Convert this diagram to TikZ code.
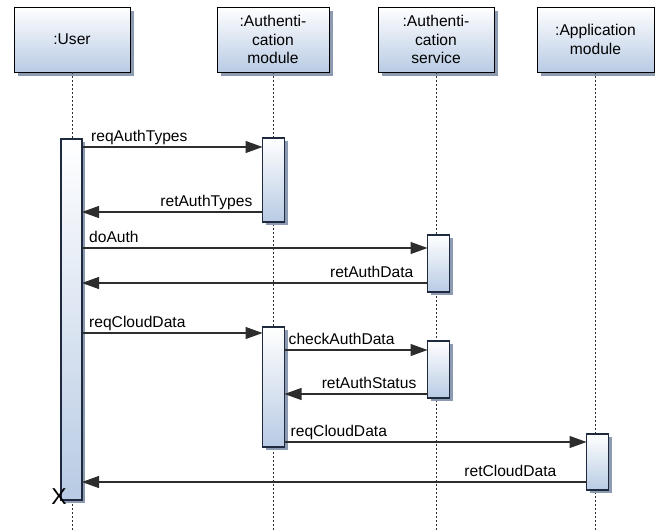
\documentclass[tikz,border=0pt]{standalone}
\usepackage{fontspec}
\setmainfont{Liberation Sans}
\usetikzlibrary{arrows.meta,shadows}
\definecolor{boxblue}{RGB}{184,203,228}
\definecolor{shadowgray}{RGB}{140,155,178}
\definecolor{edgenavy}{RGB}{32,42,62}
\definecolor{wire}{RGB}{45,45,45}
\begin{document}
\begin{tikzpicture}[x=1pt,y=-1pt,
  txt/.style={font=\fontsize{15.6}{18.5}\selectfont},
  head/.style={txt, draw=black, line width=0.9pt, top color=white, bottom color=boxblue,
    minimum height=65pt, inner sep=0pt, outer sep=0pt, align=center,
    general shadow={shadow xshift=4pt, shadow yshift=-4pt, fill=shadowgray}},
  act/.style={draw=edgenavy, line width=1.1pt, top color=white, bottom color=boxblue,
    minimum width=22pt, inner sep=0pt, outer sep=0pt,
    general shadow={shadow xshift=3pt, shadow yshift=-3pt, fill=shadowgray}},
  life/.style={draw=wire, line width=0.8pt, dash pattern=on 2pt off 2pt},
  msg/.style={draw=wire, line width=1.1pt, -{Triangle[length=17pt,width=12pt]}},
  lbl/.style={txt, inner sep=0pt}
]
\useasboundingbox (0,0) rectangle (655,532);

% lifeline heads
\node[head, minimum width=116pt] (hU) at (72,39.5) {:User};
\node[head, minimum width=112pt] (hM) at (273,39.5) {:Authenti-\\cation\\module};
\node[head, minimum width=116pt] (hS) at (436,39.5) {:Authenti-\\cation\\service};
\node[head, minimum width=117pt] (hA) at (595.5,39.5) {:Application\\module};

% lifelines
\coordinate (eU) at (hU.south |- 0,532);
\coordinate (eM) at (hM.south |- 0,532);
\coordinate (eS) at (hS.south |- 0,532);
\coordinate (eA) at (hA.south |- 0,532);
\draw[life] (hU.south) -- (eU);
\draw[life] (hM.south) -- (eM);
\draw[life] (hS.south) -- (eS);
\draw[life] (hA.south) -- (eA);

% activation bars
\node[act, minimum width=21pt, minimum height=361pt] (U) at (71.5,319.5) {};
\node[act, minimum height=84pt]  (M1) at (273.5,180) {};
\node[act, minimum height=57pt]  (S1) at (438.5,263.5) {};
\node[act, minimum height=120pt] (M2) at (273.5,387) {};
\node[act, minimum height=57pt]  (S2) at (438.5,369.5) {};
\node[act, minimum height=56pt]  (A)  at (597.5,462) {};

% messages
\draw[msg] (U.east |- 0,147) -- (M1.west |- 0,147);
\node[lbl, anchor=base west] (m1) at ([xshift=9pt]U.east |- 0,141) {reqAuthTypes};

\draw[msg] (M1.west |- 0,212) -- (U.east |- 0,212);
\node[lbl, anchor=base east] (m2) at ([xshift=-10pt]M1.west |- 0,206) {retAuthTypes};

\draw[msg] (U.east |- 0,248) -- (S1.west |- 0,248);
\node[lbl, anchor=base west] (m3) at ([xshift=7pt]U.east |- 0,242) {doAuth};

\draw[msg] (S1.west |- 0,283) -- (U.east |- 0,283);
\node[lbl, anchor=base east] (m4) at ([xshift=-14pt]S1.west |- 0,277) {retAuthData};

\draw[msg] (U.east |- 0,333) -- (M2.west |- 0,333);
\node[lbl, anchor=base west] (m5) at ([xshift=7pt]U.east |- 0,327) {reqCloudData};

\draw[msg] (M2.east |- 0,350) -- (S2.west |- 0,350);
\node[lbl, anchor=base west] (m6) at ([xshift=4pt]M2.east |- 0,344) {checkAuthData};

\draw[msg] (S2.west |- 0,394) -- (M2.east |- 0,394);
\node[lbl, anchor=base east] (m7) at ([xshift=-11pt]S2.west |- 0,388) {retAuthStatus};

\draw[msg] (M2.east |- 0,442) -- (A.west |- 0,442);
\node[lbl, anchor=base west] (m8) at ([xshift=6pt]M2.east |- 0,436) {reqCloudData};

\draw[msg] (A.west |- 0,482) -- (U.east |- 0,482);
\node[lbl, anchor=base east] (m9) at ([xshift=-30pt]A.west |- 0,476) {retCloudData};

% destruction mark
\node[inner sep=0pt, font=\fontsize{23}{23}\selectfont] (x) at (59,497) {X};
\end{tikzpicture}
\end{document}
